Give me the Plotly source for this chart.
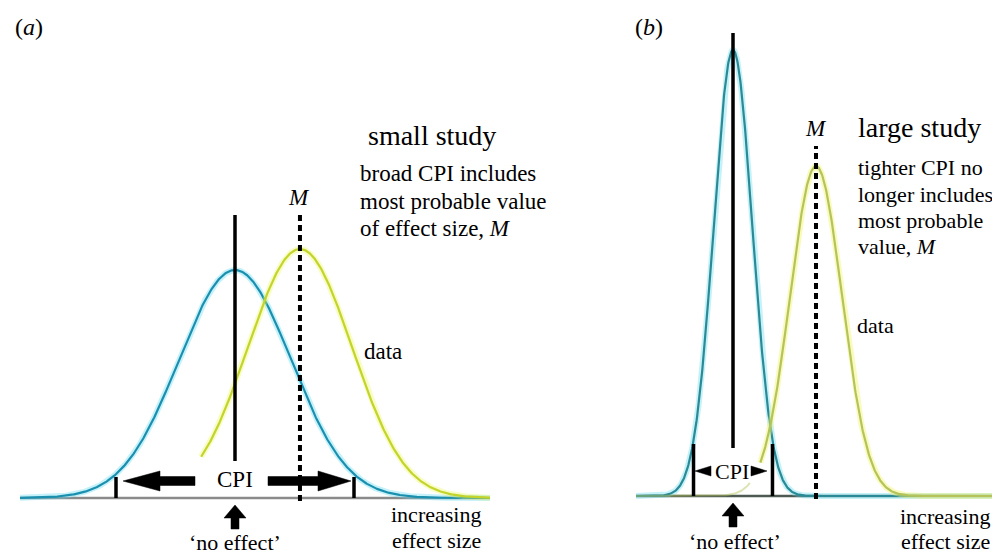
import numpy as np
import plotly.graph_objects as go

# ---------------- data (effect-size units; density in arbitrary units) ----------------
panels = ["(<i>a</i>)", "(<i>b</i>)"]
study = ["small study", "large study"]
null_mean = [0.0, 0.0]          # 'no effect' prior / null distribution
null_sd = [1.0, 0.345]
null_peak = [1.0, 1.956]
data_mean = [1.16, 1.482]       # most probable value M
data_sd = [0.93, 0.464]
data_peak = [1.092, 1.447]
cpi_low = [-2.125, -0.705]
cpi_high = [2.125, 0.705]
notes = [["broad CPI includes", "most probable value", "of effect size, <i>M</i>"],
         ["tighter CPI no", "longer includes", "most probable", "value, <i>M</i>"]]

# ---------------- layout / style constants ----------------
W, H = 1000, 555
PXU, PYU = 56.0, 228.0          # pixels per x unit / y unit
FONT = "Liberation Serif, Times New Roman, serif"
base_px = [490, 488]            # baseline pixel row for each panel
xpx = [(12, 482), (628, 992)]   # horizontal pixel span of each panel axis
null_px = [227, 725]            # pixel column of the null mean
null_line_px = [(207, 453), (25, 440)]
dash_top_px = [207, 138]
tick_h_px = [21, 52]
data_start_px = [193, 752]
blue = ["#1b8fae", "#2a8a96"]
blue_halo = ["rgba(90,215,240,0.35)", "rgba(90,215,235,0.35)"]
yel = ["#c3d42b", "#b4c45a"]
yel_halo = ["rgba(235,245,90,0.35)", "rgba(245,245,110,0.45)"]
base_col = ["#8a8a8a", "#4d5a52"]

fig = go.Figure()


def ax_name(i):
    return ("x", "y") if i == 0 else ("x2", "y2")


def ux(i, px):
    return (px - null_px[i]) / PXU


def uy(i, py):
    return (base_px[i] - py) / PYU


def gauss(x, m, s, p):
    return p * np.exp(-(x - m) ** 2 / (2 * s ** 2))


def line(i, x, y, color, width, dash=None, opacity=1.0):
    xa, ya = ax_name(i)
    fig.add_trace(go.Scatter(x=x, y=y, mode="lines", xaxis=xa, yaxis=ya, opacity=opacity,
                             line=dict(color=color, width=width, dash=dash),
                             hoverinfo="skip", showlegend=False))


def poly(i, x, y, color="black"):
    xa, ya = ax_name(i)
    fig.add_trace(go.Scatter(x=x, y=y, mode="lines", fill="toself", fillcolor=color,
                             xaxis=xa, yaxis=ya, line=dict(color=color, width=0.5),
                             hoverinfo="skip", showlegend=False))


def harrow(i, x_tail, x_base, x_tip, yc, sh, hh):
    xs = [x_tail, x_base, x_base, x_tip, x_base, x_base, x_tail, x_tail]
    ys = [yc + sh, yc + sh, yc + hh, yc, yc - hh, yc - sh, yc - sh, yc + sh]
    poly(i, xs, ys)


def varrow(i, xc, y_tip, y_base, y_bot, hw, sw):
    xs = [xc - sw, xc - sw, xc - hw, xc, xc + hw, xc + sw, xc + sw, xc - sw]
    ys = [y_bot, y_base, y_base, y_tip, y_base, y_base, y_bot, y_bot]
    poly(i, xs, ys)


for i in range(2):
    x0, x1 = ux(i, xpx[i][0]), ux(i, xpx[i][1])
    xs = np.linspace(x0, x1, 800)
    # baseline
    line(i, [x0, x1], [0, 0], base_col[i], 2.5)
    # null (no effect) distribution
    yb = gauss(xs, null_mean[i], null_sd[i], null_peak[i])
    line(i, xs, yb, blue_halo[i], 6)
    line(i, xs, yb, blue[i], 2.2)
    # data distribution
    xd0 = ux(i, data_start_px[i])
    if i == 1:
        xt = xs[xs <= ux(i, 742)]
        line(i, xt, gauss(xt, data_mean[i], data_sd[i], data_peak[i]), yel[i], 2, opacity=0.45)
    xd = xs[xs >= xd0]
    yd = gauss(xd, data_mean[i], data_sd[i], data_peak[i])
    line(i, xd, yd, yel_halo[i], 6)
    line(i, xd, yd, yel[i], 2.2)
    # solid null line
    line(i, [null_mean[i]] * 2, [uy(i, null_line_px[i][1]), uy(i, null_line_px[i][0])], "black", 3.5)
    # dashed M line
    line(i, [data_mean[i]] * 2, [uy(i, base_px[i] + 3), uy(i, dash_top_px[i])], "black", 4,
         dash="6px,4px")
    # CPI ticks
    for c in (cpi_low[i], cpi_high[i]):
        line(i, [c, c], [0, tick_h_px[i] / PYU], "black", 3.5)
    # up arrow at 'no effect'
    b = base_px[i]
    varrow(i, null_mean[i], uy(i, b + 7), uy(i, b + 20), uy(i, b + 31), 11 / PXU, 4 / PXU)

# CPI arrows
yc = uy(0, 473)
harrow(0, ux(0, 187), ux(0, 152), ux(0, 115), yc, 4.5 / PYU, 10 / PYU)
harrow(0, ux(0, 260), ux(0, 310), ux(0, 343), yc, 4.5 / PYU, 10 / PYU)
yc = uy(1, 463)
harrow(1, ux(1, 703), ux(1, 703), ux(1, 687), yc, 0.001, 5 / PYU)
harrow(1, ux(1, 743), ux(1, 743), ux(1, 759), yc, 0.001, 5 / PYU)

# ---------------- text ----------------
ann = []


def txt(x, y, s, size=23, xanchor="left"):
    ann.append(dict(x=x / W, y=1 - y / H, xref="paper", yref="paper", text=s, showarrow=False,
                    xanchor=xanchor, yanchor="middle", borderpad=0,
                    font=dict(family=FONT, size=size, color="black")))


txt(6, 19, panels[0], 24)
txt(626, 19, panels[1], 24)
txt(359, 128, study[0], 28)
txt(849, 119, study[1], 28)
for k, s in enumerate(notes[0]):
    txt(351, 165 + 28 * k, s)
for k, s in enumerate(notes[1]):
    txt(849, 160 + 26 * k, s, 22)
txt(291, 189, "<i>M</i>", 23, "center")
txt(808, 120, "<i>M</i>", 23, "center")
txt(355, 343, "data")
txt(848, 317, "data", 22)
txt(227, 534, "\u2018no effect\u2019", 22, "center")
txt(727, 533, "\u2018no effect\u2019", 22, "center")
txt(227, 471, "CPI", 23, "center")
txt(724, 463, "CPI", 22, "center")
txt(428, 506, "increasing", 22, "center")
txt(428, 532, "effect size", 22, "center")
txt(937, 508, "increasing", 22, "center")
txt(937, 533, "effect size", 22, "center")

ax_common = dict(visible=False, showgrid=False, zeroline=False, fixedrange=True)
fig.update_layout(
    width=W, height=H, margin=dict(l=0, r=0, t=0, b=0),
    paper_bgcolor="white", plot_bgcolor="rgba(0,0,0,0)", showlegend=False,
    xaxis=dict(domain=[0.012, 0.482], range=[ux(0, 12), ux(0, 482)], **ax_common),
    yaxis=dict(domain=[0, 1], range=[uy(0, H), uy(0, 0)], anchor="x", **ax_common),
    xaxis2=dict(domain=[0.628, 0.992], range=[ux(1, 628), ux(1, 992)], anchor="y2", **ax_common),
    yaxis2=dict(domain=[0, 1], range=[uy(1, H), uy(1, 0)], anchor="x2", **ax_common),
    annotations=ann,
)
fig.update_traces(cliponaxis=False)
fig.write_html("out.html", config={"displayModeBar": False})
